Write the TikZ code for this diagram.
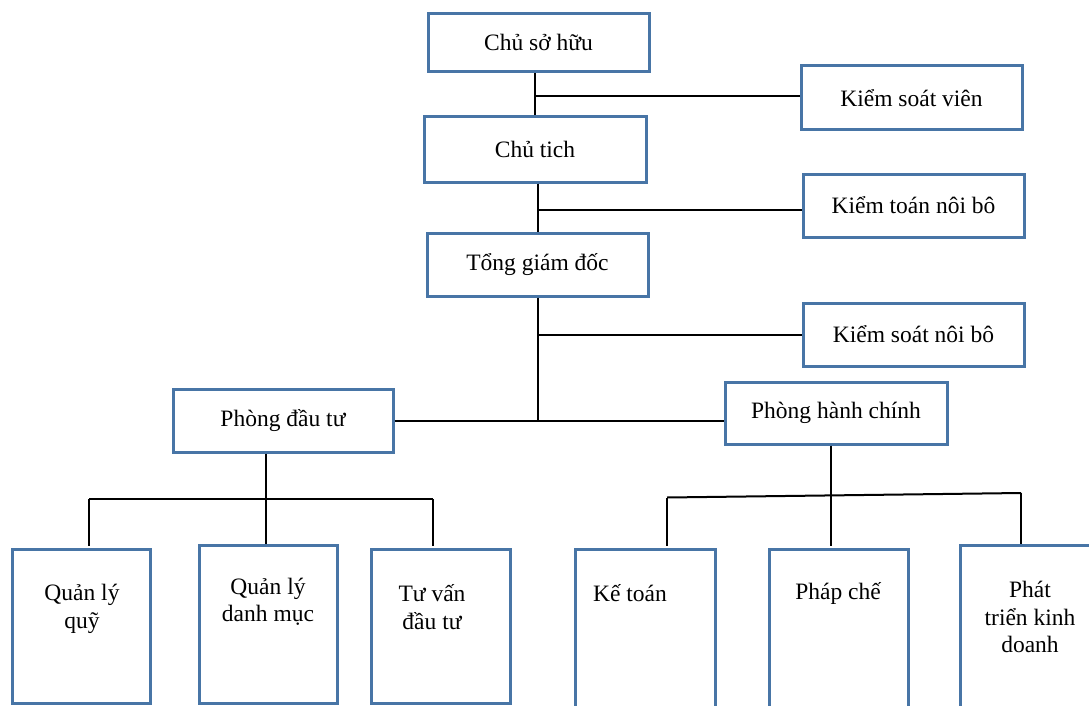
\documentclass[tikz,border=0pt]{standalone}
\usepackage{fontspec}
\setmainfont{Liberation Serif}
\usetikzlibrary{calc}
\definecolor{boxblue}{RGB}{72,117,166}
\tikzset{
  orgbox/.style={draw=boxblue, line width=3pt, fill=white, inner sep=0pt, anchor=center},
  lab/.style={font=\fontsize{23.5}{27.5}\selectfont, align=center, inner sep=0pt, text=black},
  conn/.style={draw=black, line width=2pt}
}
\begin{document}
\begin{tikzpicture}[x=1pt,y=-1pt]
\clip (0,0) rectangle (1089,706);
\fill[white] (0,0) rectangle (1089,706);
% top-level boxes with text
\node[orgbox, minimum width=221pt, minimum height=58pt, lab] (own) at (538.5,42.5) {Chủ sở hữu};
\node[orgbox, minimum width=221pt, minimum height=64pt, lab] (ksv) at (911.5,98) {Kiểm soát viên};
\node[orgbox, minimum width=222pt, minimum height=65pt, lab] (chair) at (535,149.5) {Chủ tich};
\node[orgbox, minimum width=221pt, minimum height=63pt, lab] (ktnb) at (913.5,205.5) {Kiểm toán nôi bô};
\node[orgbox, minimum width=221pt, minimum height=63pt, lab] (ceo) at (537.5,264.5) {Tổng giám đốc};
\node[orgbox, minimum width=221pt, minimum height=63pt, lab] (ksnb) at (913.5,334.5) {Kiểm soát nôi bô};
\node[orgbox, minimum width=220pt, minimum height=63pt, lab] (pdt) at (283,420.5) {Phòng đầu tư};
\node[orgbox, minimum width=222pt, minimum height=62pt, lab] (phc) at (836,413) {Phòng hành chính};
% bottom boxes
\node[orgbox, minimum width=138pt, minimum height=154pt] (q1) at (81,626) {};
\node[orgbox, minimum width=138pt, minimum height=158pt] (q2) at (268,624) {};
\node[orgbox, minimum width=139pt, minimum height=154pt] (q3) at (440.5,626) {};
\node[orgbox, minimum width=140pt, minimum height=166pt] (k1) at (645,632) {};
\node[orgbox, minimum width=139pt, minimum height=166pt] (k2) at (838.5,632) {};
\node[orgbox, minimum width=140pt, minimum height=170pt] (k3) at (1030,630) {};
% bottom texts
\node[lab] (tq1) at (82,609) {Quản lý\\quỹ};
\node[lab] (tq2) at (268,602) {Quản lý\\danh mục};
\node[lab] (tq3) at (432,607) {Tư vấn\\đầu tư};
\node[lab] (tk1) at (630,593) {Kế toán};
\node[lab] (tk2) at (838,593) {Pháp chế};
\node[lab] (tk3) at (1030,617) {Phát\\triển kinh\\doanh};
% connectors
\draw[conn] (chair.north |- own.south) -- (chair.north);
\draw[conn] ($(chair.north |- ksv.west)+(0,-2)$) -- ($(ksv.west)+(0,-2)$);
\draw[conn] (ceo.north |- chair.south) -- (ceo.north);
\draw[conn] ($(ceo.north |- ktnb.west)+(0,4)$) -- ($(ktnb.west)+(0,4)$);
\draw[conn] (ceo.south) -- (ceo.south |- pdt.east);
\draw[conn] (ceo.south |- ksnb.west) -- (ksnb.west);
\draw[conn] (pdt.east) -- (pdt.east -| phc.west);
% left group bus
\coordinate (jl) at (266,499);
\coordinate (bl1) at (89,499);
\coordinate (bl3) at (433,499);
\draw[conn] (pdt.south -| jl) -- (jl);
\draw[conn] (bl1) -- (bl3);
\draw[conn] (bl1) -- ($(bl1 |- q1.north)+(0,-2)$);
\draw[conn] (jl) -- (jl |- q2.north);
\draw[conn] (bl3) -- ($(bl3 |- q3.north)+(0,-2)$);
% right group bus
\coordinate (jr) at (831,496);
\coordinate (br1) at (667,497.5);
\coordinate (br3) at (1021,493);
\draw[conn] (phc.south -| jr) -- (jr);
\draw[conn] (br1) -- (br3);
\draw[conn] (br1) -- ($(br1 |- k1.north)+(0,-2)$);
\draw[conn] (jr) -- ($(jr |- k2.north)+(0,-2)$);
\draw[conn] (br3) -- (br3 |- k3.north);
\end{tikzpicture}
\end{document}
